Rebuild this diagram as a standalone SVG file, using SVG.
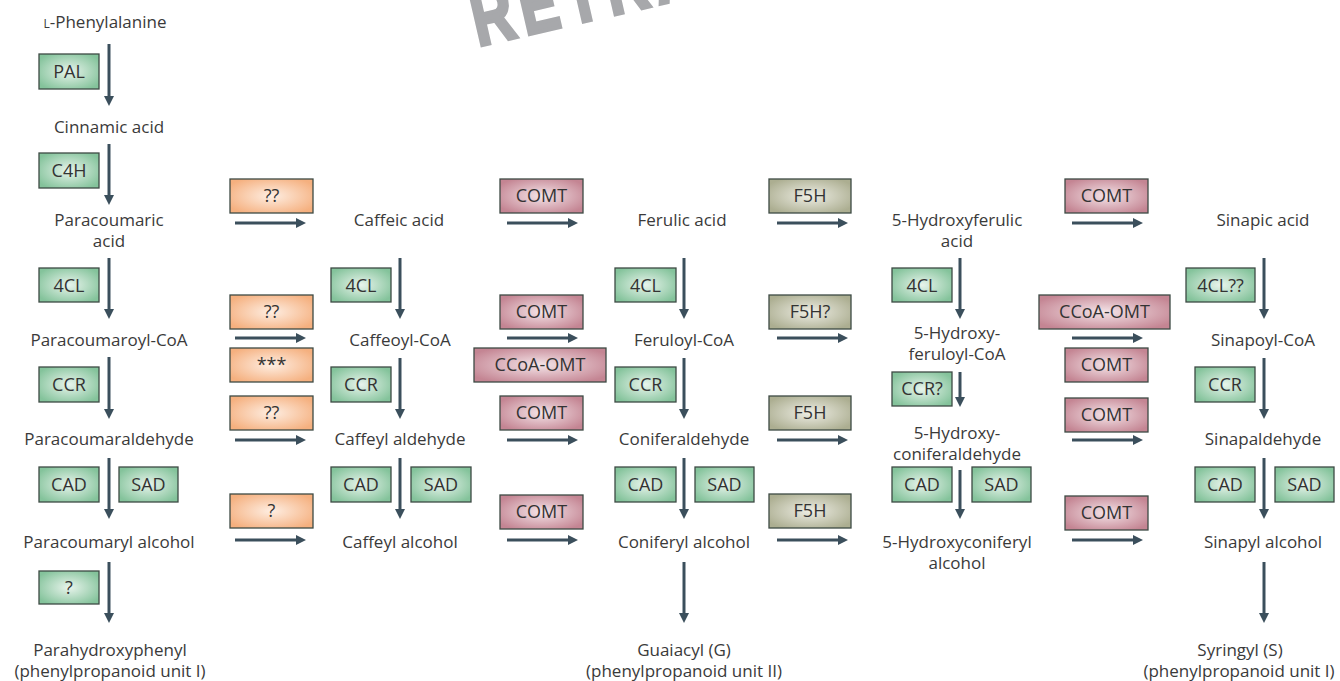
<svg xmlns="http://www.w3.org/2000/svg" width="1340" height="681" viewBox="0 0 1340 681">
<defs>
<radialGradient id="gG" cx="50%" cy="50%" r="60%"><stop offset="0" stop-color="#e8f4ec"/><stop offset="1" stop-color="#84c39b"/></radialGradient>
<radialGradient id="gO" cx="50%" cy="50%" r="60%"><stop offset="0" stop-color="#feeee2"/><stop offset="1" stop-color="#f5b07f"/></radialGradient>
<radialGradient id="gM" cx="50%" cy="50%" r="60%"><stop offset="0" stop-color="#f4e4e8"/><stop offset="1" stop-color="#c48593"/></radialGradient>
<radialGradient id="gF" cx="50%" cy="50%" r="60%"><stop offset="0" stop-color="#eeeee5"/><stop offset="1" stop-color="#acae91"/></radialGradient>
<marker id="ah" viewBox="0 0 10 10" refX="2" refY="5" markerWidth="10" markerHeight="10" markerUnits="userSpaceOnUse" orient="auto"><path d="M0,0 L10,5 L0,10 z" fill="#3b4f5c"/></marker>
</defs>
<style>
text{font-family:"Open Sans","Noto Sans","Liberation Sans",sans-serif;font-weight:400;font-size:17px;fill:#3a3a3a;text-anchor:middle}
.b rect{stroke:#3d4a44;stroke-width:1.3}
.g rect{fill:url(#gG)}
.o rect{fill:url(#gO)}
.m rect{fill:url(#gM)}
.f rect{fill:url(#gF)}
.b text{fill:#333;font-size:18px}
#connectors line{stroke:#3b4f5c;stroke-width:3;marker-end:url(#ah)}
.wm{font-family:"Liberation Sans",sans-serif;font-weight:bold;font-size:80px;fill:#a7a8ab;stroke:#a7a8ab;stroke-width:4;stroke-linejoin:miter;text-anchor:start;letter-spacing:10px}
</style>
<rect width="1340" height="681" fill="#fff"/>
<text class="wm" transform="rotate(-13 478 46) translate(478 46) scale(0.72 1)">RETRA</text>

<g id="connectors">
<line x1="109" y1="44" x2="109" y2="98"/>
<line x1="109" y1="144" x2="109" y2="197"/>
<line x1="109" y1="258" x2="109" y2="311"/>
<line x1="109" y1="357" x2="109" y2="411"/>
<line x1="109" y1="458" x2="109" y2="511"/>
<line x1="109" y1="562" x2="109" y2="615"/>
<line x1="400" y1="258" x2="400" y2="311"/>
<line x1="400" y1="358" x2="400" y2="411"/>
<line x1="400" y1="458" x2="400" y2="511"/>
<line x1="684" y1="258" x2="684" y2="311"/>
<line x1="684" y1="358" x2="684" y2="411"/>
<line x1="684" y1="458" x2="684" y2="511"/>
<line x1="684" y1="562" x2="684" y2="615"/>
<line x1="960" y1="258" x2="960" y2="311"/>
<line x1="960" y1="372" x2="960" y2="399"/>
<line x1="960" y1="470" x2="960" y2="511"/>
<line x1="1264" y1="258" x2="1264" y2="311"/>
<line x1="1264" y1="358" x2="1264" y2="411"/>
<line x1="1264" y1="458" x2="1264" y2="511"/>
<line x1="1264" y1="562" x2="1264" y2="615"/>
<line x1="235" y1="223" x2="298" y2="223"/>
<line x1="235" y1="338" x2="298" y2="338"/>
<line x1="235" y1="440" x2="298" y2="440"/>
<line x1="235" y1="540" x2="298" y2="540"/>
<line x1="507" y1="223" x2="570" y2="223"/>
<line x1="507" y1="338" x2="570" y2="338"/>
<line x1="507" y1="440" x2="570" y2="440"/>
<line x1="507" y1="540" x2="570" y2="540"/>
<line x1="777" y1="223" x2="840" y2="223"/>
<line x1="777" y1="338" x2="840" y2="338"/>
<line x1="777" y1="440" x2="840" y2="440"/>
<line x1="777" y1="540" x2="840" y2="540"/>
<line x1="1072" y1="223" x2="1135" y2="223"/>
<line x1="1072" y1="338" x2="1135" y2="338"/>
<line x1="1072" y1="440" x2="1135" y2="440"/>
<line x1="1072" y1="540" x2="1135" y2="540"/>
</g>

<g id="compounds">
<g id="n-phe"><text x="105" y="28"><tspan font-size="12">L</tspan>-Phenylalanine</text></g>
<g id="n-cinnamic"><text x="109" y="133">Cinnamic acid</text></g>
<g id="n-paracoumaric"><text x="109" y="226">Paracoumaric</text><text x="109" y="247">acid</text></g>
<g id="n-paracoumaroyl"><text x="109" y="346">Paracoumaroyl-CoA</text></g>
<g id="n-paracoumaraldehyde"><text x="109" y="445">Paracoumaraldehyde</text></g>
<g id="n-paracoumaryl"><text x="109" y="548">Paracoumaryl alcohol</text></g>
<g id="n-H"><text x="110" y="656">Parahydroxyphenyl</text><text x="110" y="677">(phenylpropanoid unit I)</text></g>
<g id="n-caffeic"><text x="399" y="226">Caffeic acid</text></g>
<g id="n-caffeoyl"><text x="400" y="346">Caffeoyl-CoA</text></g>
<g id="n-caffeylald"><text x="400" y="445">Caffeyl aldehyde</text></g>
<g id="n-caffeylalc"><text x="400" y="548">Caffeyl alcohol</text></g>
<g id="n-ferulic"><text x="682" y="226">Ferulic acid</text></g>
<g id="n-feruloyl"><text x="684" y="346">Feruloyl-CoA</text></g>
<g id="n-coniferald"><text x="684" y="445">Coniferaldehyde</text></g>
<g id="n-coniferylalc"><text x="684" y="548">Coniferyl alcohol</text></g>
<g id="n-G"><text x="684" y="656">Guaiacyl (G)</text><text x="684" y="677">(phenylpropanoid unit II)</text></g>
<g id="n-5hfa"><text x="957" y="226">5-Hydroxyferulic</text><text x="957" y="247">acid</text></g>
<g id="n-5hfcoa"><text x="957" y="339">5-Hydroxy-</text><text x="957" y="360">feruloyl-CoA</text></g>
<g id="n-5hcald"><text x="957" y="439">5-Hydroxy-</text><text x="957" y="460">coniferaldehyde</text></g>
<g id="n-5hcalc"><text x="957" y="548">5-Hydroxyconiferyl</text><text x="957" y="569">alcohol</text></g>
<g id="n-sinapic"><text x="1263" y="226">Sinapic acid</text></g>
<g id="n-sinapoyl"><text x="1263" y="346">Sinapoyl-CoA</text></g>
<g id="n-sinapald"><text x="1263" y="445">Sinapaldehyde</text></g>
<g id="n-sinapylalc"><text x="1263" y="548">Sinapyl alcohol</text></g>
<g id="n-S"><text x="1240" y="656">Syringyl (S)</text><text x="1239" y="677">(phenylpropanoid unit I)</text></g>
</g>

<g id="enzymes">
<g id="e-pal" class="b g"><rect x="39" y="54" width="60" height="35"/><text x="69" y="78">PAL</text></g>
<g id="e-c4h" class="b g"><rect x="39" y="153" width="60" height="35"/><text x="69" y="177">C4H</text></g>
<g id="e-4cl1" class="b g"><rect x="39" y="268" width="60" height="34"/><text x="69" y="292">4CL</text></g>
<g id="e-ccr1" class="b g"><rect x="39" y="367" width="60" height="35"/><text x="69" y="391">CCR</text></g>
<g id="e-cad1" class="b g"><rect x="39" y="467" width="60" height="35"/><text x="69" y="491">CAD</text></g>
<g id="e-sad1" class="b g"><rect x="119" y="467" width="59" height="35"/><text x="148.5" y="491">SAD</text></g>
<g id="e-q1" class="b g"><rect x="39" y="571" width="60" height="33"/><text x="69" y="594">?</text></g>

<g id="e-o1" class="b o"><rect x="230" y="179" width="83" height="34"/><text x="271.5" y="202">??</text></g>
<g id="e-o2" class="b o"><rect x="230" y="295" width="83" height="34"/><text x="271.5" y="318">??</text></g>
<g id="e-o3" class="b o"><rect x="230" y="348" width="83" height="34"/><text x="271.5" y="371">***</text></g>
<g id="e-o4" class="b o"><rect x="230" y="396" width="83" height="34"/><text x="271.5" y="419">??</text></g>
<g id="e-o5" class="b o"><rect x="230" y="494" width="83" height="34"/><text x="271.5" y="517">?</text></g>

<g id="e-4cl2" class="b g"><rect x="331" y="268" width="60" height="34"/><text x="361" y="292">4CL</text></g>
<g id="e-ccr2" class="b g"><rect x="331" y="367" width="60" height="35"/><text x="361" y="391">CCR</text></g>
<g id="e-cad2" class="b g"><rect x="331" y="467" width="60" height="35"/><text x="361" y="491">CAD</text></g>
<g id="e-sad2" class="b g"><rect x="411" y="467" width="60" height="35"/><text x="441" y="491">SAD</text></g>

<g id="e-m1" class="b m"><rect x="500" y="179" width="83" height="34"/><text x="541.5" y="202">COMT</text></g>
<g id="e-m2" class="b m"><rect x="500" y="295" width="83" height="34"/><text x="541.5" y="318">COMT</text></g>
<g id="e-m3" class="b m"><rect x="474" y="348" width="132" height="34"/><text x="540" y="371">CCoA-OMT</text></g>
<g id="e-m4" class="b m"><rect x="500" y="396" width="83" height="34"/><text x="541.5" y="419">COMT</text></g>
<g id="e-m5" class="b m"><rect x="500" y="495" width="83" height="34"/><text x="541.5" y="518">COMT</text></g>

<g id="e-4cl3" class="b g"><rect x="615" y="268" width="61" height="34"/><text x="645.5" y="292">4CL</text></g>
<g id="e-ccr3" class="b g"><rect x="615" y="367" width="61" height="35"/><text x="645.5" y="391">CCR</text></g>
<g id="e-cad3" class="b g"><rect x="615" y="467" width="61" height="35"/><text x="645.5" y="491">CAD</text></g>
<g id="e-sad3" class="b g"><rect x="695" y="467" width="59" height="35"/><text x="724.5" y="491">SAD</text></g>

<g id="e-f1" class="b f"><rect x="769" y="179" width="82" height="34"/><text x="810" y="202">F5H</text></g>
<g id="e-f2" class="b f"><rect x="769" y="295" width="82" height="34"/><text x="810" y="318">F5H?</text></g>
<g id="e-f3" class="b f"><rect x="769" y="396" width="82" height="34"/><text x="810" y="419">F5H</text></g>
<g id="e-f4" class="b f"><rect x="769" y="494" width="82" height="34"/><text x="810" y="517">F5H</text></g>

<g id="e-4cl4" class="b g"><rect x="892" y="268" width="60" height="34"/><text x="922" y="292">4CL</text></g>
<g id="e-ccr4" class="b g"><rect x="892" y="372" width="60" height="34"/><text x="922" y="395">CCR?</text></g>
<g id="e-cad4" class="b g"><rect x="892" y="467" width="60" height="35"/><text x="922" y="491">CAD</text></g>
<g id="e-sad4" class="b g"><rect x="972" y="467" width="59" height="35"/><text x="1001.5" y="491">SAD</text></g>

<g id="e-m6" class="b m"><rect x="1065" y="179" width="83" height="34"/><text x="1106.5" y="202">COMT</text></g>
<g id="e-m7" class="b m"><rect x="1039" y="295" width="131" height="34"/><text x="1104.5" y="318">CCoA-OMT</text></g>
<g id="e-m8" class="b m"><rect x="1065" y="348" width="83" height="34"/><text x="1106.5" y="371">COMT</text></g>
<g id="e-m9" class="b m"><rect x="1065" y="398" width="83" height="34"/><text x="1106.5" y="421">COMT</text></g>
<g id="e-m10" class="b m"><rect x="1065" y="496" width="83" height="34"/><text x="1106.5" y="519">COMT</text></g>

<g id="e-4cl5" class="b g"><rect x="1186" y="268" width="69" height="34"/><text x="1220.5" y="292">4CL??</text></g>
<g id="e-ccr5" class="b g"><rect x="1195" y="367" width="60" height="35"/><text x="1225" y="391">CCR</text></g>
<g id="e-cad5" class="b g"><rect x="1195" y="467" width="60" height="35"/><text x="1225" y="491">CAD</text></g>
<g id="e-sad5" class="b g"><rect x="1275" y="467" width="59" height="35"/><text x="1304.5" y="491">SAD</text></g>
</g>
</svg>
